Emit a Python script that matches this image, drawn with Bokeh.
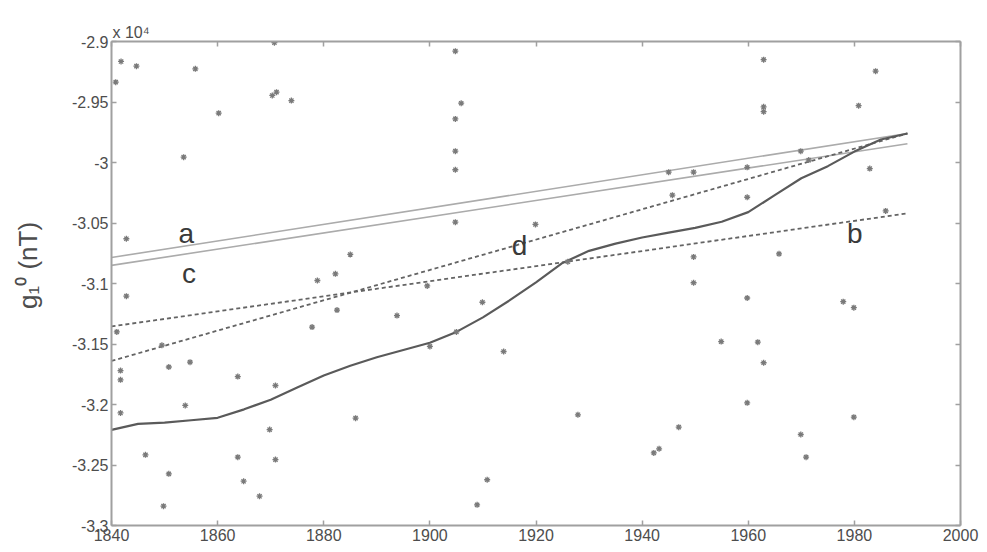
import math
from bokeh.plotting import figure
from bokeh.models import Range1d, LinearAxis, FixedTicker, CustomJSTickFormatter, Label
from bokeh.embed import file_html
from bokeh.resources import INLINE

# ---- data (values in units of 1e4 nT) ----
line_years = [1840, 1990]
line_a = [-3.0785, -2.976]
line_c = [-3.085, -2.9845]
line_b = [-3.1355, -3.042]
line_d = [-3.164, -2.976]

curve_years = [1840, 1845, 1850, 1855, 1860, 1865, 1870, 1875, 1880, 1885, 1890,
               1895, 1900, 1905, 1910, 1915, 1920, 1925, 1930, 1935, 1940, 1945,
               1950, 1955, 1960, 1965, 1970, 1975, 1980, 1985, 1990]
curve_vals = [-3.221, -3.216, -3.215, -3.213, -3.211, -3.204, -3.196, -3.186, -3.176,
              -3.168, -3.161, -3.155, -3.149, -3.140, -3.128, -3.114, -3.099, -3.083,
              -3.073, -3.067, -3.062, -3.058, -3.054, -3.049, -3.041, -3.027, -3.013,
              -3.003, -2.991, -2.981, -2.976]

pt_years = [1841.8, 1844.7, 1855.8, 1840.8, 1870.3, 1871.1, 1873.9, 1860.2, 1853.6, 1842.8,
            1870.7, 1904.8, 1905.9, 1904.8, 1904.8, 1904.8, 1904.8, 1919.9, 1885.0, 1882.2,
            1962.9, 1962.9, 1962.9, 1984.0, 1980.8, 1945.0, 1949.7, 1959.8, 1969.9, 1982.9,
            1959.8, 1945.7, 1985.9, 1949.7, 1965.8, 1949.7, 1959.8, 1977.9, 1979.9, 1954.9,
            1961.8, 1962.9, 1959.8, 1979.9, 1946.9, 1969.9, 1970.9, 1942.2, 1943.2, 1882.5,
            1893.8, 1909.9, 1913.9, 1886.0, 1927.9, 1910.8, 1908.9, 1900.0, 1905.0, 1842.8,
            1878.8, 1877.8, 1850.8, 1854.8, 1863.8, 1870.9, 1841.7, 1841.7, 1841.7, 1853.9,
            1869.8, 1846.4, 1863.8, 1870.9, 1850.8, 1864.9, 1867.9, 1849.8, 1899.5, 1926.0,
            1841.0, 1849.5, 1971.4]
pt_vals = [-2.9165, -2.9204, -2.9226, -2.9336, -2.9446, -2.9419, -2.9488, -2.9592, -2.9956, -3.063,
           -2.901, -2.908, -2.951, -2.964, -2.9906, -3.006, -3.0493, -3.0512, -3.076, -3.092,
           -2.915, -2.954, -2.958, -2.9245, -2.953, -3.008, -3.008, -3.004, -2.9906, -3.005,
           -3.0287, -3.027, -3.040, -3.078, -3.0755, -3.0994, -3.112, -3.115, -3.120, -3.148,
           -3.1485, -3.1655, -3.1986, -3.2105, -3.2187, -3.2248, -3.2435, -3.240, -3.2366, -3.122,
           -3.1265, -3.1155, -3.1562, -3.2113, -3.2085, -3.2622, -3.2829, -3.152, -3.140, -3.1105,
           -3.0975, -3.136, -3.169, -3.165, -3.1769, -3.1843, -3.172, -3.1796, -3.207, -3.2008,
           -3.2207, -3.2416, -3.2435, -3.2455, -3.2573, -3.2634, -3.2758, -3.284, -3.102, -3.082,
           -3.140, -3.151, -2.998]

x_ticks = [1840, 1860, 1880, 1900, 1920, 1940, 1960, 1980, 2000]
y_ticks = [-3.3, -3.25, -3.2, -3.15, -3.1, -3.05, -3.0, -2.95, -2.9]

line_labels = ["a", "c", "d", "b"]
label_x = [1854.1, 1854.6, 1916.9, 1980.1]
label_y = [-3.0587, -3.0917, -3.0686, -3.0587]

FONT = "Liberation Sans"
TXT = "#4d4d4d"
AX = "#a0a0a0"

p = figure(width=987, height=552, output_backend="svg", toolbar_location=None,
           x_range=Range1d(1840, 2000), y_range=Range1d(-3.3, -2.9),
           min_border_left=111, min_border_right=27, min_border_top=41, min_border_bottom=27,
           x_axis_location=None, y_axis_location=None)
p.outline_line_color = None
p.xgrid.visible = False
p.ygrid.visible = False
p.background_fill_color = "white"
p.border_fill_color = "white"

# "x 10^4" multiplier shown as a left-aligned title above the frame
p.title.text = "x 10\u2074"
p.title.align = "left"
p.title.offset = 1
p.title.text_font = FONT
p.title.text_font_size = "16px"
p.title.text_font_style = "normal"
p.title.text_color = TXT
p.title.standoff = 1

fmt_x = CustomJSTickFormatter(code="return tick.toString();")
fmt_y = CustomJSTickFormatter(code="return (Math.round(tick*100)/100).toString();")
fmt_none = CustomJSTickFormatter(code="return '';")

def style(ax, ticks, fmt, show):
    ax.ticker = FixedTicker(ticks=ticks)
    ax.formatter = fmt
    ax.axis_line_color = AX
    ax.axis_line_width = 2
    ax.major_tick_line_color = AX
    ax.major_tick_line_width = 1.5
    ax.major_tick_in = 5
    ax.major_tick_out = 0
    ax.minor_tick_line_color = None
    ax.major_label_text_font = FONT
    ax.major_label_text_font_size = "16px" if show else "1px"
    ax.major_label_text_color = TXT
    ax.major_label_standoff = 3 if show else 0

bottom = LinearAxis(); style(bottom, x_ticks, fmt_x, True)
top = LinearAxis(); style(top, x_ticks, fmt_none, False)
left = LinearAxis(); style(left, y_ticks, fmt_y, True)
right = LinearAxis(); style(right, y_ticks, fmt_none, False)

left.axis_label = "\u00a0" * 5 + "g\u2081\u2070 (nT)"
left.axis_label_text_font = FONT
left.axis_label_text_font_size = "26px"
left.axis_label_text_font_style = "normal"
left.axis_label_text_color = TXT
left.axis_label_standoff = 26

p.add_layout(bottom, "below")
p.add_layout(top, "above")
p.add_layout(left, "left")
p.add_layout(right, "right")

# fitted lines
p.line(line_years, line_a, line_color="#ababab", line_width=1.6)
p.line(line_years, line_c, line_color="#ababab", line_width=1.6)
p.line(line_years, line_b, line_color="#646464", line_width=1.8, line_dash="4 3")
p.line(line_years, line_d, line_color="#646464", line_width=1.8, line_dash="4 3")
p.line(curve_years, curve_vals, line_color="#5a5a5a", line_width=2.2)

p.scatter(pt_years, pt_vals, marker="asterisk", size=6, line_color="#7a7a7a", line_width=1.3)

for t, x, y in zip(line_labels, label_x, label_y):
    p.add_layout(Label(x=x, y=y, text=t, text_font=FONT, text_font_size="28px",
                       text_color="#3a3a3a", text_align="center", text_baseline="alphabetic"))

open("out.html", "w").write(file_html(p, INLINE))
